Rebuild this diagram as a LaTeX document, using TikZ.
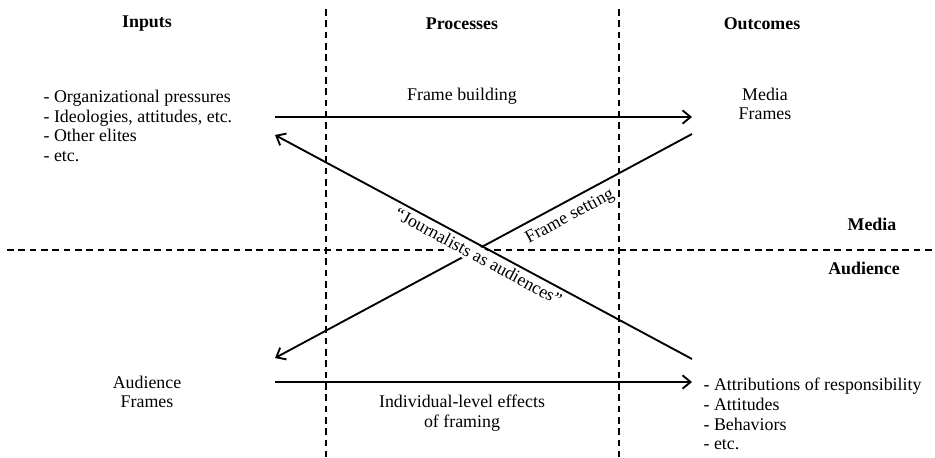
\documentclass[tikz,border=0pt]{standalone}
\usepackage{fontspec}
\setmainfont{Liberation Serif}
\usetikzlibrary{arrows.meta}

\tikzset{
  txt/.style={font=\fontsize{13.4}{14.8}\selectfont, inner sep=1pt},
  head/.style={txt, font=\fontsize{13.4}{14.8}\selectfont\bfseries},
  lst/.style={txt, align=left, anchor=west},
  flow/.style={line width=1.4pt, -{Straight Barb[length=6pt,width=10pt,line width=1.4pt]}},
  cut/.style={line width=1pt, dash pattern=on 5pt off 3.5pt},
}

\begin{document}
\begin{tikzpicture}[x=0.75pt, y=-0.75pt]
  \useasboundingbox (0,0) rectangle (935,457);

  % the grid
  \coordinate (vl) at (326,9);
  \coordinate (vlb) at (326,457);
  \coordinate (vr) at (619,9);
  \coordinate (vrb) at (619,457);
  \coordinate (hl) at (7,250);
  \coordinate (hr) at (935,250);
  \draw[cut] (vl) -- (vlb);
  \draw[cut] (vr) -- (vrb);
  \draw[cut] (hl) -- (hr);

  \node[head] (inputs) at (147,24) {Inputs};
  \node[head] (processes) at (462,24) {Processes};
  \node[head] (outcomes) at (762,24) {Outcomes};
  \node[head] (media) at (872,224) {Media};
  \node[head] (audience) at (864,268) {Audience};

  \node[lst] (inlist) at (42,126) {- Organizational pressures\\- Ideologies, attitudes, etc.\\- Other elites\\- etc.};
  \node[txt, align=center] (mframes) at (765,104) {Media\\Frames};
  \node[txt, align=center] (aframes) at (147,392) {Audience\\Frames};
  \node[lst] (outlist) at (702,414) {- Attributions of responsibility\\- Attitudes\\- Behaviors\\- etc.};

  % arrow ends
  \coordinate (inR) at (275,117);
  \coordinate (inRlow) at (275,135);
  \coordinate (mfL) at (692,117);
  \coordinate (mfLlow) at (692,134);
  \coordinate (afR) at (275,382);
  \coordinate (afRup) at (275,358);
  \coordinate (outL) at (692,382);
  \coordinate (outLup) at (692,359);

  \draw[flow] (inR) -- (mfL);
  \node[txt] (fbuild) at (462,96) {Frame building};

  \draw[flow] (afR) -- (outL);
  \node[txt, align=center] (effects) at (462,413) {Individual-level effects\\of framing};

  \draw[flow] (mfLlow) -- node[txt, sloped, below=4pt, pos=0.31] (fset) {Frame setting} (afRup);
  \path (outLup) -- node[txt, sloped, below=1pt, pos=0.5, inner xsep=1.5pt, inner ysep=2pt, fill=white] (jaa) {``Journalists as audiences''} (inRlow);
  \draw[flow] (outLup) -- (inRlow);
\end{tikzpicture}
\end{document}
